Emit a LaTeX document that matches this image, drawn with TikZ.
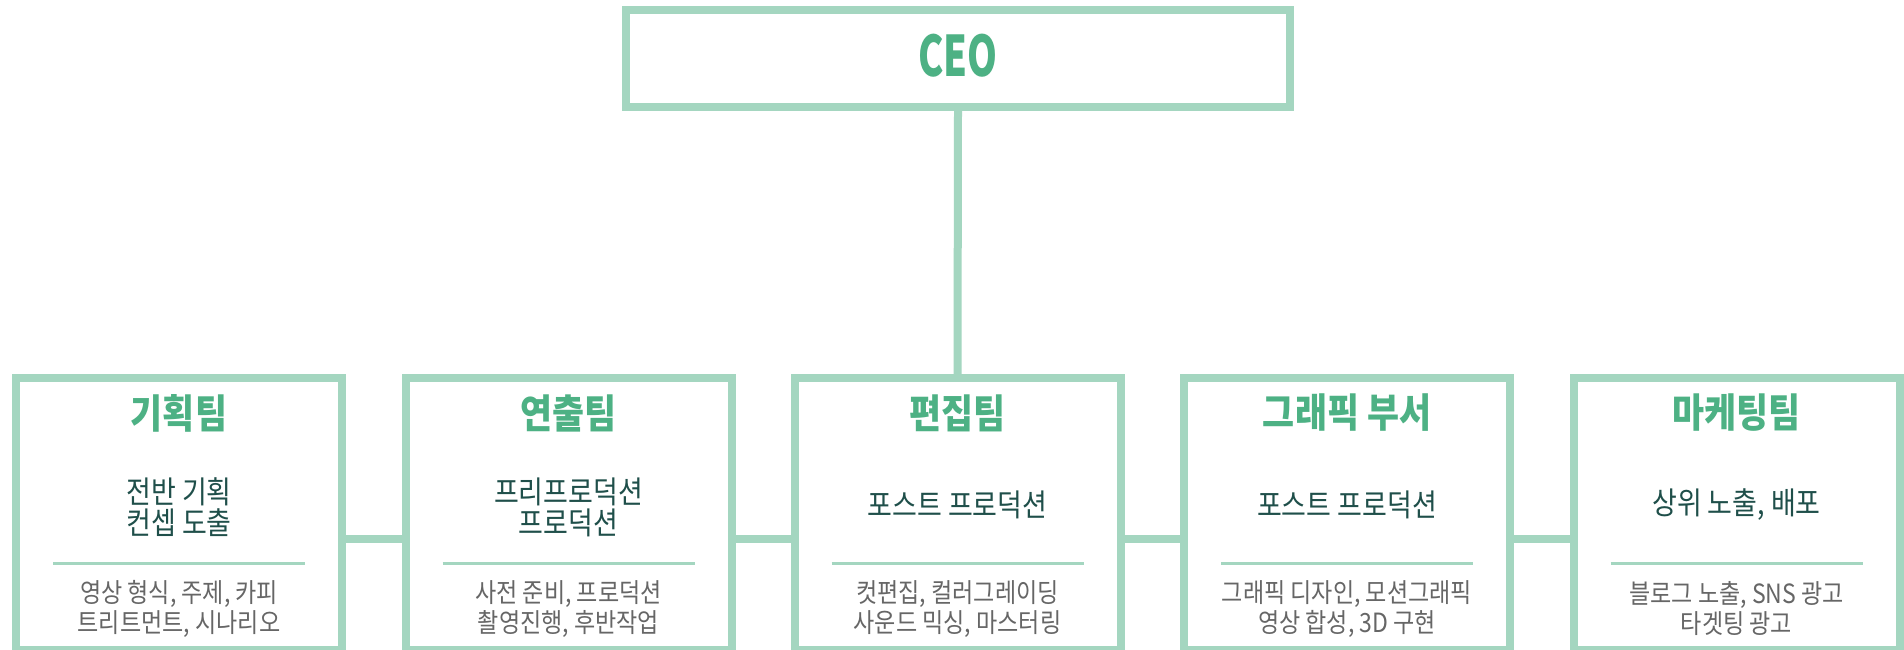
\documentclass[tikz,border=0pt]{standalone}
\usepackage{fontspec}
\newfontfamily\kr[FakeStretch=0.87]{Noto Sans CJK KR}
\newfontfamily\krceo[FakeStretch=0.68]{Noto Sans CJK KR}
\definecolor{boxline}{HTML}{A4D6C0}
\definecolor{titlegreen}{HTML}{4DB184}
\definecolor{subdark}{HTML}{1F4F4A}
\definecolor{descgray}{HTML}{666666}
\tikzset{
  teambox/.style={draw=boxline, line width=8pt, fill=white, minimum width=326pt, minimum height=272pt, inner sep=0pt},
  ceobox/.style={draw=boxline, line width=8pt, fill=white, minimum width=664pt, minimum height=97pt, inner sep=0pt},
  link/.style={draw=boxline, line width=8pt},
  divider/.style={draw=boxline, line width=3pt},
  titletext/.style={text=titlegreen, font=\kr\bfseries\fontsize{40}{44}\selectfont, inner sep=0pt},
  subtext/.style={text=subdark, font=\kr\fontsize{31}{31}\selectfont, align=center, inner sep=0pt},
  desctext/.style={text=descgray, font=\kr\fontsize{26.5}{30}\selectfont, align=center, inner sep=0pt},
}
\begin{document}
\begin{tikzpicture}[x=1pt,y=-1pt]
\useasboundingbox (0,0) rectangle (1904,650);
\fill[white] (0,0) rectangle (1904,650);
% CEO
\node[ceobox] (ceo) at (958,58.5) {};
\node[text=titlegreen, font=\krceo\bfseries\fontsize{56}{60}\selectfont, inner sep=0pt] (ceot) at (958,56) {CEO};
% team boxes
\foreach \i/\cx in {1/179, 2/568.5, 3/957.5, 4/1347, 5/1736.5} {
  \node[teambox] (b\i) at (\cx,514) {};
  \draw[divider] ([xshift=-126pt]b\i.north |- 0,563) coordinate (d\i a) -- ([xshift=126pt]b\i.north |- 0,563) coordinate (d\i b);
}
% connectors
\draw[link] (ceo.south) -- (b3.north);
\draw[link] ([yshift=-25pt]b1.east) -- ([yshift=-25pt]b2.west);
\draw[link] ([yshift=-25pt]b2.east) -- ([yshift=-25pt]b3.west);
\draw[link] ([yshift=-25pt]b3.east) -- ([yshift=-25pt]b4.west);
\draw[link] ([yshift=-25pt]b4.east) -- ([yshift=-25pt]b5.west);
% titles
\node[titletext] (t1) at (b1.north |- 0,413) {기획팀};
\node[titletext] (t2) at (b2.north |- 0,413) {연출팀};
\node[titletext] (t3) at (b3.north |- 0,413) {편집팀};
\node[titletext] (t4) at (b4.north |- 0,413) {그래픽 부서};
\node[titletext] (t5) at (b5.north |- 0,413) {마케팅팀};
% subtitles
\node[subtext] (s1) at (b1.north |- 0,507) {전반 기획\\컨셉 도출};
\node[subtext] (s2) at (b2.north |- 0,507) {프리프로덕션\\프로덕션};
\node[subtext] (s3) at (b3.north |- 0,505) {포스트 프로덕션};
\node[subtext] (s4) at (b4.north |- 0,505) {포스트 프로덕션};
\node[subtext] (s5) at (b5.north |- 0,505) {상위 노출, 배포};
% descriptions
\node[desctext] (e1) at (b1.north |- 0,609) {영상 형식, 주제, 카피\\트리트먼트, 시나리오};
\node[desctext] (e2) at (b2.north |- 0,609) {사전 준비, 프로덕션\\촬영진행, 후반작업};
\node[desctext] (e3) at (b3.north |- 0,609) {컷편집, 컬러그레이딩\\사운드 믹싱, 마스터링};
\node[desctext] (e4) at (b4.north |- 0,609) {그래픽 디자인, 모션그래픽\\영상 합성, 3D 구현};
\node[desctext] (e5) at (b5.north |- 0,609) {블로그 노출, SNS 광고\\타겟팅 광고};
\end{tikzpicture}
\end{document}
